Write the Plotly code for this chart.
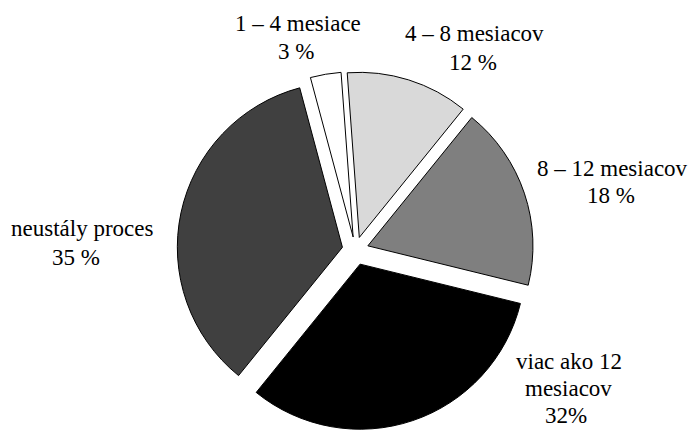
import plotly.graph_objects as go

labels = ["1 – 4 mesiace", "4 – 8 mesiacov", "8 – 12 mesiacov", "viac ako 12 mesiacov", "neustály proces"]
values = [3, 12, 18, 32, 35]
pct_text = ["3 %", "12 %", "18 %", "32%", "35 %"]
label_lines = [["1 – 4 mesiace"], ["4 – 8 mesiacov"], ["8 – 12 mesiacov"],
               ["viac ako 12", "mesiacov"], ["neustály proces"]]
colors = ["#ffffff", "#d9d9d9", "#7f7f7f", "#000000", "#404040"]
pulls = [0.08, 0.08, 0.08, 0.09, 0.08]

W, H = 690, 430
# label line anchor positions in pixels (center x, baseline y), one list per slice
label_pos = [
    [(298, 31.7), (296, 59.3)],
    [(474, 41.7), (473, 70.0)],
    [(612, 176.7), (611, 203.3)],
    [(569, 369.3), (568, 396.7), (566, 423.3)],
    [(82, 236.7), (76, 265.0)],
]

fig = go.Figure(go.Pie(
    labels=labels, values=values, textinfo="none",
    sort=False, direction="clockwise", rotation=-15,
    pull=pulls,
    marker=dict(colors=colors, line=dict(color="#000000", width=1)),
    domain=dict(x=[0.24, 0.79], y=[0.0, 0.837]),
    showlegend=False, hoverinfo="label+percent",
))

font = dict(family="'Liberation Serif', Tinos, 'DejaVu Serif'", size=23, color="#000000")
for lines, pct, pos in zip(label_lines, pct_text, label_pos):
    for txt, (px, py) in zip(lines + [pct], pos):
        fig.add_annotation(text=txt, x=px / W, y=1 - (py - 8) / H, xref="paper", yref="paper",
                           xanchor="center", yanchor="middle", showarrow=False, font=font)

fig.update_layout(width=W, height=H, margin=dict(l=0, r=0, t=0, b=0),
                  paper_bgcolor="white", plot_bgcolor="white")
fig.write_html("out.html")
